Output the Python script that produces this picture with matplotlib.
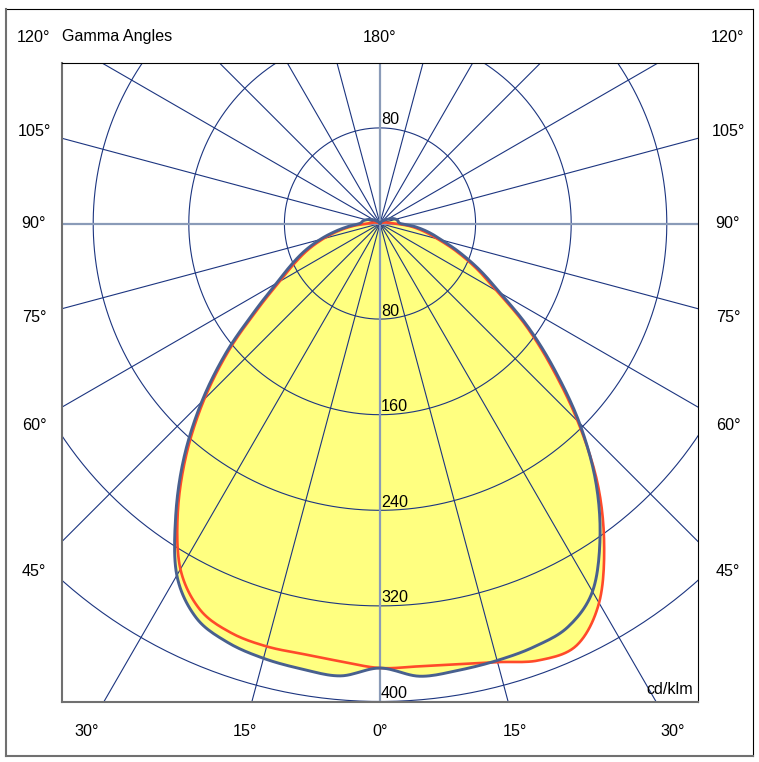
import numpy as np
import matplotlib
matplotlib.use('Agg')
import matplotlib.pyplot as plt
from matplotlib.lines import Line2D

plt.rcParams['font.family'] = ['Liberation Sans', 'DejaVu Sans']

# gamma angles (deg) and luminous intensity (cd/klm)
gamma = [0, 5, 10, 15, 20, 25, 30, 35, 40, 45, 50, 55, 60, 65, 70, 75, 80, 85, 90,
         100, 110, 120, 135, 150, 165, 180]
# C0 / C180 plane (blue), right and left half
c0 = [372, 380.3, 379.6, 378.6, 377, 372.4, 355.6, 321, 280.6, 236, 191, 151.6, 116, 92,
      71, 53.4, 41, 29, 17, 15, 12, 7, 3, 1, 0, 0]
c180 = [372, 380, 378.5, 376.7, 373, 364, 340, 298, 255, 211, 168, 128, 100, 82,
        67, 52, 38, 26, 17, 14, 10, 6, 2, 1, 0, 0]
# C90 / C270 plane (red), right and left half
c90 = [372, 372, 374.5, 380, 389, 389.5, 366.6, 327, 283, 234, 188, 149, 113, 89,
       68, 50, 37, 25, 12, 5, 2, 1, 0, 0, 0, 0]
c270 = [372, 368, 366, 366.4, 364.5, 356.5, 334, 295, 252, 208, 165, 125, 97, 79,
        64, 49, 35, 22, 10, 5, 2, 1, 0, 0, 0, 0]

rings = [80, 160, 240, 320, 400]
left_labels = ['120°', '105°', '90°', '75°', '60°', '45°']
bottom_labels = ['30°', '15°', '0°', '15°', '30°']

W, H = 759, 762
grid_c = '#1c3580'
axis_c = '#8a9bb8'
blue_c = '#48608f'
red_c = '#ff4a2a'
fill_c = '#ffff80'


def smooth(x, y, n=12):
    # catmull-rom through the read points, only for drawing
    pts = np.column_stack([x, y])
    p = np.vstack([pts[0], pts, pts[-1]])
    t = np.linspace(0, 1, n, endpoint=False)[:, None]
    out = []
    for i in range(1, len(p) - 2):
        p0, p1, p2, p3 = p[i - 1], p[i], p[i + 1], p[i + 2]
        seg = 0.5 * (2 * p1 + (-p0 + p2) * t + (2 * p0 - 5 * p1 + 4 * p2 - p3) * t ** 2
                     + (-p0 + 3 * p1 - 3 * p2 + p3) * t ** 3)
        out.append(seg)
    out.append(pts[-1:])
    s = np.vstack(out)
    return s[:, 0], s[:, 1]


def contour(right, left):
    g = np.radians(gamma)
    r_r = np.array(right, float)
    r_l = np.array(left, float)
    x = np.concatenate([-(r_l * np.sin(g))[::-1], (r_r * np.sin(g))[1:]])
    y = np.concatenate([-(r_l * np.cos(g))[::-1], -(r_r * np.cos(g))[1:]])
    return smooth(x, y)


fig = plt.figure(figsize=(W / 100, H / 100), dpi=100)

# plot box in pixels, centre of the diagram and pixels per cd
bx0, bx1, by0, by1 = 62, 698, 63, 702
cx, cy = 380, 223.5
scale = 1.195

ax = fig.add_axes([bx0 / W, 1 - by1 / H, (bx1 - bx0) / W, (by1 - by0) / H])
ax.set_xlim((bx0 - cx) / scale, (bx1 - cx) / scale)
ax.set_ylim(-(by1 - cy) / scale, (cy - by0) / scale)
ax.set_xticks([])
ax.set_yticks([])
for side in ['top', 'right']:
    ax.spines[side].set_color('black')
    ax.spines[side].set_linewidth(0.8)
for side in ['left', 'bottom']:
    ax.spines[side].set_color('#707070')
    ax.spines[side].set_linewidth(1.5)

xb, yb = contour(c0, c180)
xr, yr = contour(c90, c270)
ax.fill(xb, yb, color=fill_c, lw=0, zorder=1)
ax.fill(xr, yr, color=fill_c, lw=0, zorder=1)

th = np.linspace(0, 2 * np.pi, 721)
for r in rings:
    ax.plot(r * np.sin(th), r * np.cos(th), color=grid_c, lw=0.8, zorder=2)
for a in range(0, 360, 15):
    if a % 90 == 0:
        continue
    ar = np.radians(a)
    ax.plot([0, 900 * np.sin(ar)], [0, -900 * np.cos(ar)], color=grid_c, lw=0.8, zorder=2)
ax.axhline(0, color=axis_c, lw=1.6, zorder=2)
ax.axvline(0, color=axis_c, lw=1.6, zorder=2)

ax.plot(xr, yr, color=red_c, lw=1.9, zorder=3, solid_joinstyle='round')
ax.plot(xb, yb, color=blue_c, lw=2.1, zorder=4, solid_joinstyle='round')

fs = 11.6
for r in rings:
    ax.annotate(str(r), (0, -r), xytext=(1, 3.5), textcoords='offset pixels',
                ha='left', va='baseline', fontsize=fs, zorder=5)
ax.annotate('80', (0, 80), xytext=(1, 3.5), textcoords='offset pixels',
            ha='left', va='baseline', fontsize=fs, zorder=5)
ax.text(0.992, 0.008, 'cd/klm', transform=ax.transAxes, ha='right', va='bottom',
        fontsize=fs, zorder=5)

# outer labels
ly = [37, 131, 223, 317, 425, 571]
for lab, y in zip(left_labels, ly):
    fig.text(34 / W, 1 - y / H, lab, ha='center', va='center', fontsize=fs)
    fig.text(728 / W, 1 - y / H, lab, ha='center', va='center', fontsize=fs)
fig.text(62 / W, 1 - 37 / H, 'Gamma Angles', ha='left', va='center', fontsize=fs)
fig.text(380 / W, 1 - 37 / H, '180°', ha='center', va='center', fontsize=fs)
for lab, x in zip(bottom_labels, [87, 245, 380, 515, 673]):
    fig.text(x / W, 1 - 731 / H, lab, ha='center', va='center', fontsize=fs)

# outer frame
fig.add_artist(Line2D([6 / W, 753 / W], [1 - 9 / H, 1 - 9 / H], color='black', lw=0.8))
fig.add_artist(Line2D([753 / W, 753 / W], [1 - 9 / H, 1 - 756 / H], color='black', lw=0.8))
fig.add_artist(Line2D([6 / W, 6 / W], [1 - 9 / H, 1 - 756 / H], color='#707070', lw=1.5))
fig.add_artist(Line2D([6 / W, 753 / W], [1 - 756 / H, 1 - 756 / H], color='#707070', lw=1.5))

fig.savefig('out.png', dpi=100, facecolor='white')
